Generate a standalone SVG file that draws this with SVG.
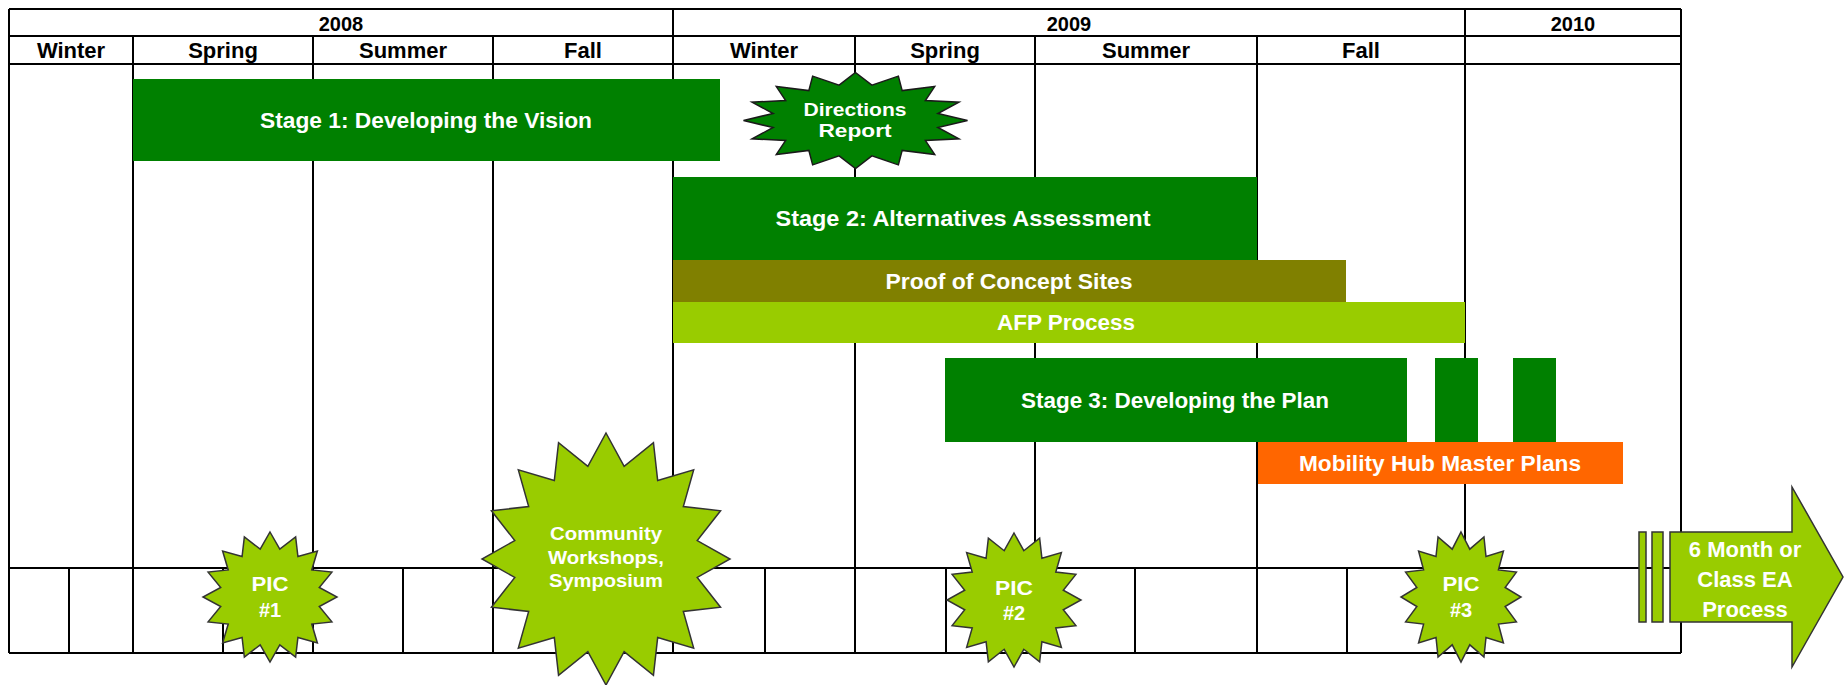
<svg xmlns="http://www.w3.org/2000/svg" width="1845" height="685" viewBox="0 0 1845 685">
<style>
.grid line{stroke:#000;stroke-width:2}
.t{font-family:"Liberation Sans",Arial,sans-serif;font-weight:bold;text-anchor:middle}
.hdr{font-size:22px;fill:#000}
.yr{font-size:20px;fill:#000}
.lbl{font-size:22px;fill:#fff}
.sm{font-size:18px;fill:#fff}
.pic{font-size:20px;fill:#fff}
.dg{fill:#008000}
.ol{fill:#808000}
.lg{fill:#99cc00}
.or{fill:#ff6600}
.starlg{fill:#99cc00;stroke:#333;stroke-width:1.5}
.stardg{fill:#008000;stroke:#1a1a1a;stroke-width:1.5}
</style>
<defs>
<path id="star16" vector-effect="non-scaling-stroke" d="M0,-1 L0.14632,-0.73559 L0.38268,-0.92388 L0.41668,-0.6236 L0.70711,-0.70711 L0.6236,-0.41668 L0.92388,-0.38268 L0.73559,-0.14632 L1,0 L0.73559,0.14632 L0.92388,0.38268 L0.6236,0.41668 L0.70711,0.70711 L0.41668,0.6236 L0.38268,0.92388 L0.14632,0.73559 L0,1 L-0.14632,0.73559 L-0.38268,0.92388 L-0.41668,0.6236 L-0.70711,0.70711 L-0.6236,0.41668 L-0.92388,0.38268 L-0.73559,0.14632 L-1,0 L-0.73559,-0.14632 L-0.92388,-0.38268 L-0.6236,-0.41668 L-0.70711,-0.70711 L-0.41668,-0.6236 L-0.38268,-0.92388 L-0.14632,-0.73559 Z"/>
</defs>
<rect x="0" y="0" width="1845" height="685" fill="#fff"/>

<g id="grid" class="grid">
<line x1="9" y1="9" x2="1681" y2="9"/>
<line x1="9" y1="36" x2="1681" y2="36"/>
<line x1="9" y1="64" x2="1681" y2="64"/>
<line x1="9" y1="568" x2="1681" y2="568"/>
<line x1="9" y1="653" x2="1681" y2="653"/>
<line x1="9" y1="9" x2="9" y2="653"/>
<line x1="673" y1="9" x2="673" y2="653"/>
<line x1="1465" y1="9" x2="1465" y2="653"/>
<line x1="1681" y1="9" x2="1681" y2="653"/>
<line x1="133" y1="36" x2="133" y2="653"/>
<line x1="313" y1="36" x2="313" y2="653"/>
<line x1="493" y1="36" x2="493" y2="653"/>
<line x1="855" y1="36" x2="855" y2="653"/>
<line x1="1035" y1="36" x2="1035" y2="653"/>
<line x1="1257" y1="36" x2="1257" y2="653"/>
<line x1="69" y1="568" x2="69" y2="653"/>
<line x1="223" y1="568" x2="223" y2="653"/>
<line x1="403" y1="568" x2="403" y2="653"/>
<line x1="583" y1="568" x2="583" y2="653"/>
<line x1="765" y1="568" x2="765" y2="653"/>
<line x1="946" y1="568" x2="946" y2="653"/>
<line x1="1135" y1="568" x2="1135" y2="653"/>
<line x1="1347" y1="568" x2="1347" y2="653"/>
</g>

<g id="header">
<text class="t yr" x="341" y="31">2008</text>
<text class="t yr" x="1069" y="31">2009</text>
<text class="t yr" x="1573" y="31">2010</text>
<text class="t hdr" x="71" y="58">Winter</text>
<text class="t hdr" x="223" y="58">Spring</text>
<text class="t hdr" x="403" y="58">Summer</text>
<text class="t hdr" x="583" y="58">Fall</text>
<text class="t hdr" x="764" y="58">Winter</text>
<text class="t hdr" x="945" y="58">Spring</text>
<text class="t hdr" x="1146" y="58">Summer</text>
<text class="t hdr" x="1361" y="58">Fall</text>
</g>

<g id="stage1">
<rect class="dg" x="133" y="79" width="587" height="82"/>
<text class="t lbl" x="426" y="128" textLength="332" lengthAdjust="spacingAndGlyphs">Stage 1: Developing the Vision</text>
</g>

<g id="directions-report">
<use href="#star16" class="stardg" transform="translate(855.5,120.5) scale(112,48)"/>
<text class="t sm" x="855" y="116" textLength="103" lengthAdjust="spacingAndGlyphs">Directions</text>
<text class="t sm" x="855" y="137" textLength="73" lengthAdjust="spacingAndGlyphs">Report</text>
</g>

<g id="stage2">
<rect class="dg" x="673" y="177" width="584" height="83"/>
<text class="t lbl" x="963" y="226" textLength="375" lengthAdjust="spacingAndGlyphs">Stage 2: Alternatives Assessment</text>
</g>

<g id="proof-of-concept">
<rect class="ol" x="673" y="260" width="673" height="42"/>
<text class="t lbl" x="1009" y="289" textLength="247" lengthAdjust="spacingAndGlyphs">Proof of Concept Sites</text>
</g>

<g id="afp-process">
<rect class="lg" x="673" y="302" width="792" height="41"/>
<text class="t lbl" x="1066" y="330" textLength="138" lengthAdjust="spacingAndGlyphs">AFP Process</text>
</g>

<g id="stage3">
<rect class="dg" x="945" y="358" width="462" height="84"/>
<rect class="dg" x="1435" y="358" width="43" height="84"/>
<rect class="dg" x="1513" y="358" width="43" height="84"/>
<text class="t lbl" x="1175" y="408" textLength="308" lengthAdjust="spacingAndGlyphs">Stage 3: Developing the Plan</text>
</g>

<g id="mobility-hub">
<rect class="or" x="1258" y="442" width="365" height="42"/>
<text class="t lbl" x="1440" y="471" textLength="282" lengthAdjust="spacingAndGlyphs">Mobility Hub Master Plans</text>
</g>

<g id="pic1">
<use href="#star16" class="starlg" transform="translate(270,597) scale(67,65)"/>
<text class="t pic" x="270" y="591" textLength="37" lengthAdjust="spacingAndGlyphs">PIC</text>
<text class="t pic" x="270" y="617">#1</text>
</g>

<g id="community-workshops">
<use href="#star16" class="starlg" transform="translate(606,559) scale(124,126)"/>
<text class="t sm" x="606" y="540" textLength="112" lengthAdjust="spacingAndGlyphs">Community</text>
<text class="t sm" x="606" y="564" textLength="116" lengthAdjust="spacingAndGlyphs">Workshops,</text>
<text class="t sm" x="606" y="587" textLength="114" lengthAdjust="spacingAndGlyphs">Symposium</text>
</g>

<g id="pic2">
<use href="#star16" class="starlg" transform="translate(1014,600) scale(67,67)"/>
<text class="t pic" x="1014" y="595" textLength="38" lengthAdjust="spacingAndGlyphs">PIC</text>
<text class="t pic" x="1014" y="620">#2</text>
</g>

<g id="pic3">
<use href="#star16" class="starlg" transform="translate(1461,597) scale(60,65)"/>
<text class="t pic" x="1461" y="591" textLength="37" lengthAdjust="spacingAndGlyphs">PIC</text>
<text class="t pic" x="1461" y="617">#3</text>
</g>

<g id="ea-process">
<rect x="1639" y="532" width="7" height="90" fill="#99cc00" stroke="#333" stroke-width="1.5"/>
<rect x="1652" y="532" width="11" height="90" fill="#99cc00" stroke="#333" stroke-width="1.5"/>
<polygon points="1670,532 1792,532 1792,487 1843,577 1792,667 1792,622 1670,622" fill="#99cc00" stroke="#333" stroke-width="1.5"/>
<text class="t lbl" x="1745" y="557">6 Month or</text>
<text class="t lbl" x="1745" y="587">Class EA</text>
<text class="t lbl" x="1745" y="617">Process</text>
</g>
</svg>
